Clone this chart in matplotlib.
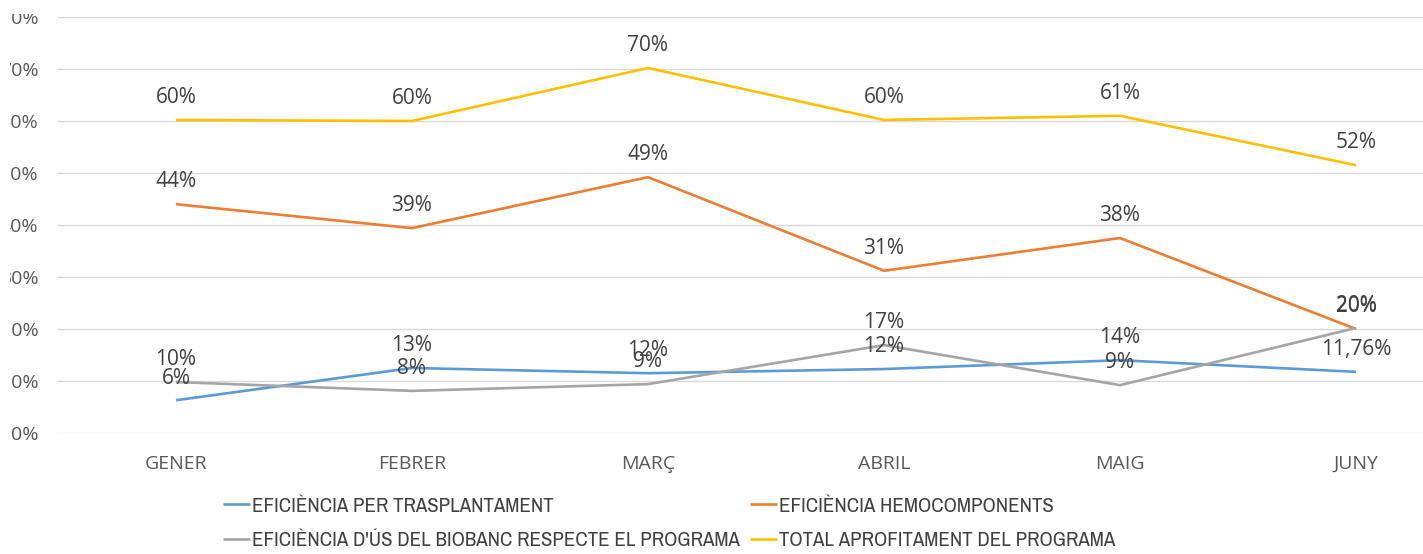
import matplotlib.pyplot as plt
from matplotlib.transforms import Bbox
from matplotlib import font_manager

# dades
mesos = ["GENER", "FEBRER", "MARÇ", "ABRIL", "MAIG", "JUNY"]
trasplantament = [0.063, 0.125, 0.115, 0.123, 0.140, 0.1176]
hemocomponents = [0.440, 0.394, 0.492, 0.312, 0.375, 0.200]
biobanc = [0.098, 0.081, 0.094, 0.169, 0.092, 0.202]
total = [0.602, 0.600, 0.702, 0.602, 0.610, 0.515]

etiq_trasplantament = ["6%", "13%", "12%", "12%", "14%", "11,76%"]
etiq_hemocomponents = ["44%", "39%", "49%", "31%", "38%", "20%"]
etiq_biobanc = ["10%", "8%", "9%", "17%", "9%", "20%"]
etiq_total = ["60%", "60%", "70%", "60%", "61%", "52%"]

noms = ["EFICIÈNCIA PER TRASPLANTAMENT", "EFICIÈNCIA HEMOCOMPONENTS",
        "EFICIÈNCIA D'ÚS DEL BIOBANC RESPECTE EL PROGRAMA",
        "TOTAL APROFITAMENT DEL PROGRAMA"]
colors = ["#5B9BD5", "#ED7D31", "#A5A5A5", "#FFC000"]

W, H = 1423, 554
plt.rcParams['font.family'] = ['Open Sans', 'DejaVu Sans']

fig = plt.figure(figsize=(W / 100, H / 100), dpi=100)
ax = fig.add_axes([58 / W, 121 / H, 1416 / W, 416 / H])

x = list(range(len(mesos)))
series = [trasplantament, hemocomponents, biobanc, total]
etiquetes = [etiq_trasplantament, etiq_hemocomponents, etiq_biobanc, etiq_total]
linies = []
for vals, col in zip(series, colors):
    l, = ax.plot(x, vals, color=col, lw=1.9, solid_capstyle='butt', zorder=3)
    linies.append(l)

for vals, labs in zip(series, etiquetes):
    for xi, v, t in zip(x, vals, labs):
        ax.annotate(t, (xi, v), xytext=(0, 16), textcoords='offset points',
                    ha='center', va='center', fontsize=15, color='#404040',
                    zorder=4)

ax.set_xlim(-0.5, 5.5)
ax.set_ylim(0, 0.8)
ax.set_yticks([i / 10 for i in range(9)])
ax.set_yticklabels([f"{i * 10}%" for i in range(9)])
ax.set_xticks(x)
ax.set_xticklabels(mesos)
ax.grid(axis='y', color='#D9D9D9', lw=1)
ax.set_axisbelow(True)
for s in ax.spines.values():
    s.set_visible(False)
ax.tick_params(axis='both', length=0, colors='#595959', labelsize=14)
ax.tick_params(axis='y', pad=14)
ax.tick_params(axis='x', pad=16)

# la imatge original està retallada per l'esquerra i per dalt
clip = Bbox.from_extents(10, 0, W, H - 14)
for lab in ax.get_yticklabels():
    lab.set_clip_box(clip)
    lab.set_clip_on(True)

narrow = [f.name for f in font_manager.fontManager.ttflist if 'Narrow' in f.name]
leg_font = narrow[0] if narrow else 'Liberation Sans'
ordre = [0, 2, 1, 3]
fig.legend([linies[i] for i in ordre], [noms[i] for i in ordre], ncol=2,
           loc='upper left', bbox_to_anchor=(204 / W, 1 - 478 / H),
           frameon=False, handlelength=1.3, handletextpad=0.1,
           columnspacing=0.5, labelspacing=0.75,
           prop={'family': leg_font, 'size': 15}, labelcolor='#404040')

fig.savefig("out.png", dpi=100)
